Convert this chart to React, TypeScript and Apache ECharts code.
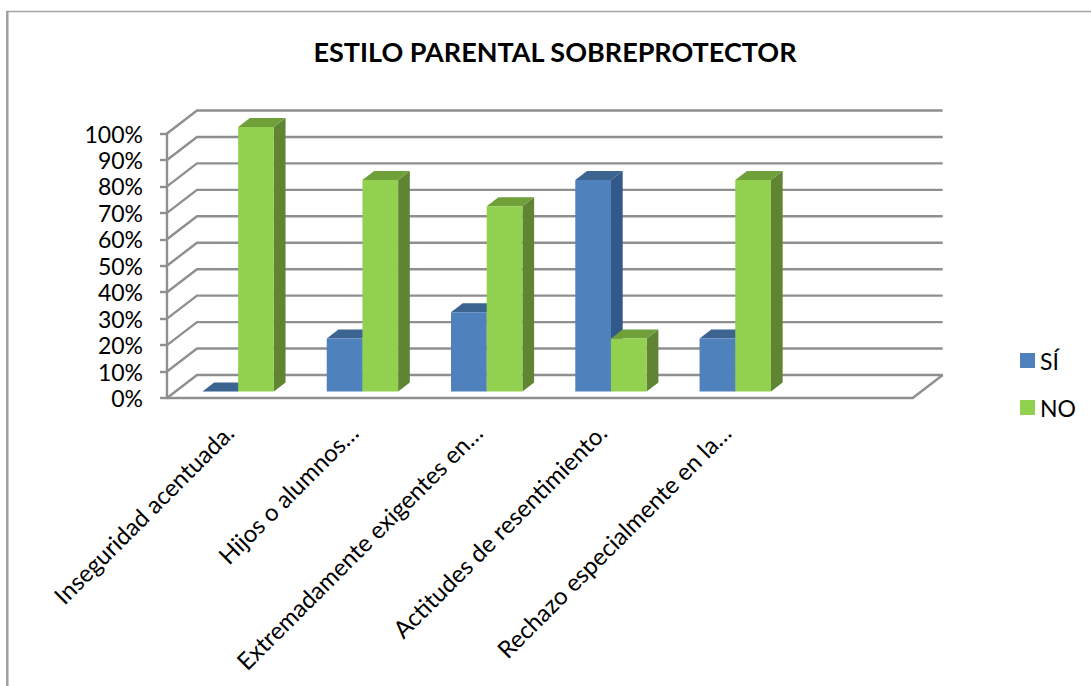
import React, { useEffect, useRef } from "react";
import * as echarts from "echarts";

const categories = [
  "Inseguridad acentuada.",
  "Hijos o alumnos…",
  "Extremadamente exigentes en…",
  "Actitudes de resentimiento.",
  "Rechazo especialmente en la…",
  "",
];
const siValues = [0, 20, 30, 80, 20];
const noValues = [100, 80, 70, 20, 80];
const yTicks = [0, 10, 20, 30, 40, 50, 60, 70, 80, 90, 100];

const FONT = "Lato, Carlito, sans-serif";
const GRID_COLOR = "#8f8f8f";
const DEPTH_X = 30;
const DEPTH_Y = 23;
const BAR_W = 35.7;
const BAR_DX = 11.7;
const BAR_DY = 9;
const SHIFT_X = 9;
const SHIFT_Y = -6.5;

function bar3d(front: string, top: string, side: string, barOffset: number) {
  return (_p: any, api: any) => {
    const idx = api.value(0);
    const val = api.value(1);
    const base = api.coord([idx, 0]);
    const head = api.coord([idx, val]);
    const x0 = base[0] + SHIFT_X + barOffset;
    const x1 = x0 + BAR_W;
    const yB = base[1] + SHIFT_Y;
    const yT = head[1] + SHIFT_Y;
    return {
      type: "group",
      children: [
        {
          type: "polygon",
          shape: { points: [[x1, yT], [x1 + BAR_DX, yT - BAR_DY], [x1 + BAR_DX, yB - BAR_DY], [x1, yB]] },
          style: { fill: side },
        },
        {
          type: "polygon",
          shape: { points: [[x0, yT], [x0 + BAR_DX, yT - BAR_DY], [x1 + BAR_DX, yT - BAR_DY], [x1, yT]] },
          style: { fill: top },
        },
        {
          type: "rect",
          shape: { x: x0, y: yT, width: BAR_W, height: Math.max(yB - yT, 0) },
          style: { fill: front },
        },
      ],
    };
  };
}

function walls(_p: any, api: any) {
  const val = api.value(0);
  const left = api.coord([0, val]);
  const size = api.size([1, 0])[0];
  const x0 = left[0] - size / 2;
  const xr = x0 + size * categories.length;
  const y = left[1];
  const children: any[] = [
    {
      type: "polyline",
      shape: { points: [[x0, y], [x0 + DEPTH_X, y - DEPTH_Y], [xr + DEPTH_X, y - DEPTH_Y]] },
      style: { stroke: GRID_COLOR, lineWidth: 2.4, fill: "none" },
    },
  ];
  if (val === 0) {
    children.push({
      type: "line",
      shape: { x1: xr, y1: y, x2: xr + DEPTH_X, y2: y - DEPTH_Y },
      style: { stroke: GRID_COLOR, lineWidth: 2.4 },
    });
  }
  return { type: "group", children };
}

export default function App() {
  const ref = useRef<HTMLDivElement>(null);
  useEffect(() => {
    const chart = echarts.init(ref.current!, null, { renderer: "svg" });
    chart.setOption({
      animation: false,
      backgroundColor: "#ffffff",
      title: {
        text: "ESTILO PARENTAL SOBREPROTECTOR",
        left: 550,
        top: 33,
        textAlign: "center",
        textStyle: { fontFamily: FONT, fontSize: 27, fontWeight: "bold", color: "#000000" },
      },
      legend: {
        data: ["SÍ", "NO"],
        orient: "vertical",
        left: 1015,
        top: 344,
        itemWidth: 15,
        itemHeight: 15,
        itemGap: 24,
        icon: "rect",
        textStyle: { fontFamily: FONT, fontSize: 23, color: "#000000" },
      },
      grid: { left: 167, right: 178.3, top: 133.5, bottom: 288, outerBoundsMode: "none" },
      xAxis: {
        type: "category",
        data: categories,
        boundaryGap: true,
        axisLine: { show: true, lineStyle: { color: GRID_COLOR, width: 2.4 } },
        axisTick: { show: false },
        axisLabel: {
          interval: 0,
          rotate: 45,
          margin: 30,
          fontFamily: FONT,
          fontSize: 24,
          color: "#000000",
        },
      },
      yAxis: {
        type: "value",
        min: 0,
        max: 100,
        interval: 10,
        axisLine: { show: true, lineStyle: { color: GRID_COLOR, width: 2.4 } },
        axisTick: { show: true, length: 7, lineStyle: { color: GRID_COLOR, width: 2.4 } },
        splitLine: { show: false },
        axisLabel: {
          formatter: "{value}%",
          margin: 24,
          padding: [4, 0, 0, 0],
          fontFamily: FONT,
          fontSize: 23,
          color: "#000000",
        },
      },
      series: [
        {
          name: "walls",
          type: "custom",
          silent: true,
          data: yTicks.map((v) => [v]),
          encode: { y: 0 },
          renderItem: walls,
          z: 1,
        },
        {
          name: "SÍ",
          type: "custom",
          data: siValues.map((v, i) => [i, v]),
          encode: { x: 0, y: 1 },
          itemStyle: { color: "#4F81BD" },
          renderItem: bar3d("#4F81BD", "#3B6491", "#33598A", -BAR_W),
          z: 3,
        },
        {
          name: "NO",
          type: "custom",
          data: noValues.map((v, i) => [i, v]),
          encode: { x: 0, y: 1 },
          itemStyle: { color: "#92D050" },
          renderItem: bar3d("#92D050", "#6FA03A", "#5F8533", 0),
          z: 4,
        },
      ],
      graphic: [
        {
          type: "line",
          shape: { x1: 6, y1: 11.5, x2: 1091, y2: 11.5 },
          style: { stroke: "#a6a6a6", lineWidth: 1.5 },
        },
        {
          type: "line",
          shape: { x1: 7.3, y1: 11, x2: 7.3, y2: 686 },
          style: { stroke: "#a0a0a0", lineWidth: 2.5 },
        },
      ],
    });
    return () => chart.dispose();
  }, []);
  return <div ref={ref} style={{ position: "fixed", left: 0, top: 0, width: 1091, height: 686 }} />;
}
